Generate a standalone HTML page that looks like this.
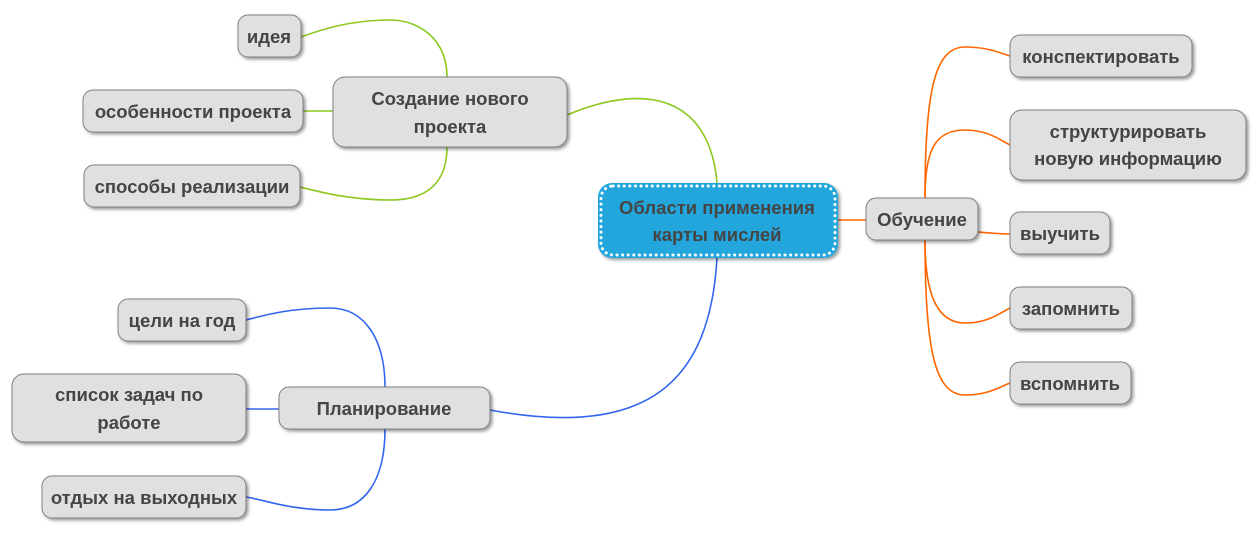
<!DOCTYPE html>
<html><head><meta charset="utf-8"><style>
body{margin:0;background:#fff;width:1259px;height:540px;overflow:hidden}
svg text{font-family:"Liberation Sans","DejaVu Sans",sans-serif;font-weight:bold;font-size:18.5px;fill:#454545;text-anchor:middle}
</style></head><body>
<svg width="1259" height="540" viewBox="0 0 1259 540" xmlns="http://www.w3.org/2000/svg">
<defs>
<filter id="sh" x="-10%" y="-20%" width="130%" height="150%"><feDropShadow dx="2" dy="2" stdDeviation="1.5" flood-color="#000" flood-opacity="0.4"/></filter>
</defs>
<g fill="none" stroke-width="1.6">
<g stroke="#8cc81e">
<path d="M717,183 C710,100 650,80 567,115"/>
<path d="M447,77 C447,40 420,20 390,20 C350,20 320,30 301,37"/>
<path d="M303,111 L333,111"/>
<path d="M447,147 C447,180 430,200 390,200 C350,200 320,192 300,187"/>
</g>
<g stroke="#3366ee">
<path d="M717,258 C710,380 650,440 490,410"/>
<path d="M385,387 C385,340 365,308 330,308 C290,308 265,315 246,320"/>
<path d="M246,409 L279,409"/>
<path d="M385,429 C385,480 365,510 330,510 C290,510 265,500 246,497"/>
</g>
<g stroke="#ff6600">
<path d="M838,220 L866,220"/>
<path d="M925,198 C925,90 935,47 965,47 C988,47 1000,53 1010,56"/>
<path d="M925,198 C925,150 935,130 965,130 C988,130 1000,140 1010,145"/>
<path d="M978,232 C990,233 1000,234 1010,234"/>
<path d="M925,240 C925,290 935,323 965,323 C988,323 1000,313 1010,308"/>
<path d="M925,240 C925,350 935,395 965,395 C988,395 1000,387 1010,383"/>
</g>
</g>
<g filter="url(#sh)" fill="#e0e0e0" stroke="#808080" stroke-width="1">
<rect x="238" y="15" width="63" height="42" rx="10"/>
<rect x="333" y="77" width="234" height="70" rx="12"/>
<rect x="83" y="90" width="220" height="42" rx="10"/>
<rect x="84" y="165" width="216" height="42" rx="10"/>
<rect x="279" y="387" width="211" height="42" rx="10"/>
<rect x="118" y="299" width="128" height="42" rx="10"/>
<rect x="12" y="374" width="234" height="68" rx="12"/>
<rect x="42" y="476" width="204" height="42" rx="10"/>
<rect x="866" y="198" width="112" height="42" rx="10"/>
<rect x="1010" y="35" width="182" height="42" rx="10"/>
<rect x="1010" y="110" width="236" height="70" rx="12"/>
<rect x="1010" y="212" width="100" height="42" rx="10"/>
<rect x="1010" y="287" width="122" height="42" rx="10"/>
<rect x="1010" y="362" width="121" height="42" rx="10"/>
<rect x="598" y="183" width="240" height="75" rx="14" fill="#22a6dc" stroke="none"/>
</g>
<rect x="601" y="186" width="234" height="69" rx="12" fill="none" stroke="#fff" stroke-width="3" stroke-dasharray="0.1 5.5" stroke-linecap="round"/>
<text x="717" y="214">Области применения</text>
<text x="717" y="241">карты мислей</text>
<text x="269" y="43">идея</text>
<text x="450" y="105">Создание нового</text>
<text x="450" y="133">проекта</text>
<text x="193" y="118">особенности проекта</text>
<text x="192" y="193">способы реализации</text>
<text x="384" y="415">Планирование</text>
<text x="182" y="327">цели на год</text>
<text x="129" y="401">список задач по</text>
<text x="129" y="429">работе</text>
<text x="144" y="504">отдых на выходных</text>
<text x="922" y="226">Обучение</text>
<text x="1101" y="63">конспектировать</text>
<text x="1128" y="138">структурировать</text>
<text x="1128" y="165">новую информацию</text>
<text x="1060" y="240">выучить</text>
<text x="1071" y="315">запомнить</text>
<text x="1070" y="390">вспомнить</text>
</svg>
</body></html>
